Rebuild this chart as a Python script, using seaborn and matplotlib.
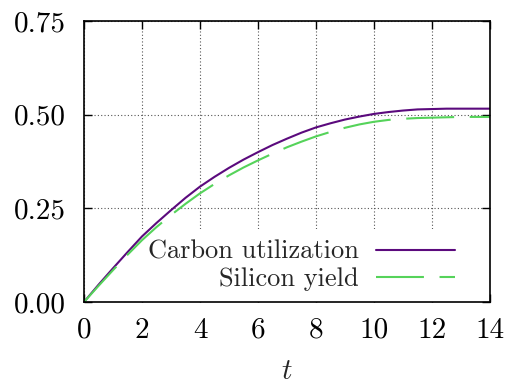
import matplotlib
matplotlib.use("Agg")
import matplotlib.pyplot as plt
import seaborn as sns
import pandas as pd

t = [0, 0.5, 1, 1.5, 2, 2.5, 3, 3.5, 4, 4.5, 5, 5.5, 6, 6.5, 7, 7.5, 8, 8.5,
     9, 9.5, 10, 10.5, 11, 11.5, 12, 12.5, 13, 13.5, 14]
carbon = [0.0, 0.046, 0.090, 0.133, 0.175, 0.211, 0.245, 0.278, 0.308, 0.334,
          0.358, 0.380, 0.400, 0.419, 0.436, 0.452, 0.466, 0.477, 0.487, 0.495,
          0.502, 0.507, 0.511, 0.514, 0.515, 0.516, 0.516, 0.516, 0.516]
silicon = [0.0, 0.043, 0.085, 0.126, 0.165, 0.200, 0.232, 0.262, 0.290, 0.315,
           0.338, 0.359, 0.378, 0.396, 0.413, 0.428, 0.442, 0.454, 0.465, 0.474,
           0.481, 0.486, 0.489, 0.491, 0.492, 0.493, 0.494, 0.494, 0.494]
series_names = ["Carbon utilization", "Silicon yield"]
xticks = [0, 2, 4, 6, 8, 10, 12, 14]
yticks = [0.0, 0.25, 0.50, 0.75]
ytick_labels = ["0.00", "0.25", "0.50", "0.75"]

sns.set_style("ticks")
plt.rcParams["font.family"] = ["cmr10", "DejaVu Serif"]
plt.rcParams["mathtext.fontset"] = "cm"
plt.rcParams["axes.unicode_minus"] = False

df = pd.DataFrame({
    "t": t * 2,
    "value": carbon + silicon,
    "series": [series_names[0]] * len(t) + [series_names[1]] * len(t),
})

fig = plt.figure(figsize=(5.19, 3.87), dpi=100)
ax = fig.add_axes([84 / 519, 85 / 387, 406 / 519, 281 / 387])

colors = {series_names[0]: "#5b0a7d", series_names[1]: "#55d35a"}
for name, ls in zip(series_names, ["-", (0, (23, 7.5))]):
    sub = df[df["series"] == name]
    sns.lineplot(data=sub, x="t", y="value", ax=ax, color=colors[name],
                 linewidth=1.5, linestyle=ls, label=name, zorder=3)

ax.set_xlim(0, 14)
ax.set_ylim(0, 0.75)
ax.set_xticks(xticks)
ax.set_xticklabels([str(v) for v in xticks])
ax.set_yticks(yticks)
ax.set_yticklabels(ytick_labels)
ax.grid(True, linestyle=(0, (1, 2)), color="#555555", linewidth=0.8, zorder=0)
ax.set_axisbelow(True)
ax.tick_params(direction="in", length=6, width=1.0, top=True, right=True,
               labelsize=21, pad=11, colors="black")
ax.tick_params(axis="y", pad=13)
for s in ax.spines.values():
    s.set_color("black")
    s.set_linewidth(1.2)
    s.set_zorder(5)
ax.set_xlabel("$t$", fontsize=21, labelpad=11)
ax.set_ylabel("")

leg = ax.legend(loc="lower right", bbox_to_anchor=(0.94, 0.0), borderaxespad=0.0,
                markerfirst=False, frameon=True, fancybox=False, framealpha=1.0,
                facecolor="white", edgecolor="none", fontsize=19,
                handlelength=3.0, handletextpad=0.65, labelspacing=0.15,
                borderpad=0.4)
leg.set_zorder(2)
for txt in leg.get_texts():
    txt.set_ha("right")

fig.savefig("out.png", dpi=100)
